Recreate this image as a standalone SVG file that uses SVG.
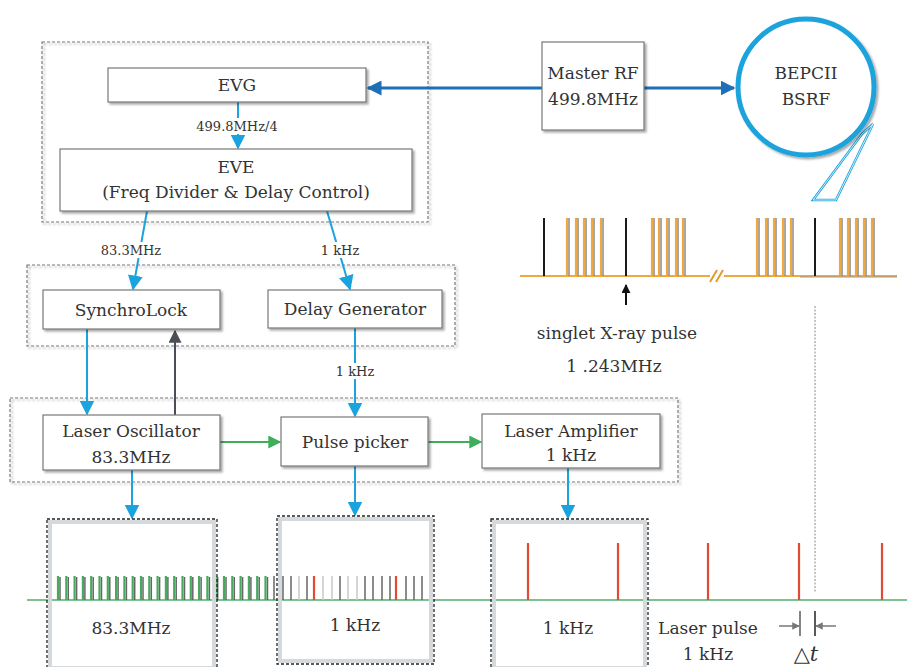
<svg xmlns="http://www.w3.org/2000/svg" width="907" height="667" viewBox="0 0 907 667">
  <defs>
    <filter id="shadow" x="-10%" y="-10%" width="130%" height="130%">
      <feDropShadow dx="2" dy="2" stdDeviation="1.2" flood-color="#000" flood-opacity="0.35"/>
    </filter>
    <marker id="ah-blue" viewBox="0 0 10 10" refX="9" refY="5" markerWidth="7.5" markerHeight="7.5" orient="auto">
      <path d="M0,0 L10,5 L0,10 z" fill="#1aa3dc"/>
    </marker>
    <marker id="ah-dblue" viewBox="0 0 10 10" refX="9" refY="5" markerWidth="5" markerHeight="5" orient="auto">
      <path d="M0,0 L10,5 L0,10 z" fill="#1f6fb5"/>
    </marker>
    <marker id="ah-gray" viewBox="0 0 10 10" refX="9" refY="5" markerWidth="7" markerHeight="6.5" orient="auto">
      <path d="M0,0 L10,5 L0,10 z" fill="#4a4f55"/>
    </marker>
    <marker id="ah-green" viewBox="0 0 10 10" refX="9" refY="5" markerWidth="8" markerHeight="6.5" orient="auto">
      <path d="M0,0 L10,5 L0,10 z" fill="#3fae5a"/>
    </marker>
    <marker id="ah-black" viewBox="0 0 10 10" refX="9" refY="5" markerWidth="4.5" markerHeight="4.5" orient="auto">
      <path d="M0,0 L10,5 L0,10 z" fill="#111"/>
    </marker>
    <marker id="ah-dim" viewBox="0 0 10 10" refX="9" refY="5" markerWidth="5" markerHeight="5" orient="auto">
      <path d="M0,0 L10,5 L0,10 z" fill="#777"/>
    </marker>
  </defs>
  <style>
    text { font-family: "DejaVu Serif", "Liberation Serif", serif; fill: #333; text-anchor: middle; }
    .t { font-size: 17px; }
    .s { font-size: 13px; }
    .box { fill: #fff; stroke: #777; stroke-width: 1.2; filter: url(#shadow); }
    .group { fill: none; stroke: #777; stroke-width: 1.2; stroke-dasharray: 3 2; filter: url(#shadow); }
    .win-in { fill: none; stroke: #d6d9db; stroke-width: 4; }
    .win { fill: none; stroke: #222; stroke-width: 1.3; stroke-dasharray: 3 2; }
    .blue { stroke: #1aa3dc; stroke-width: 2; fill: none; marker-end: url(#ah-blue); }
    .dblue { stroke: #1f6fb5; stroke-width: 3; fill: none; marker-end: url(#ah-dblue); }
    .green { stroke: #3fae5a; stroke-width: 2; fill: none; marker-end: url(#ah-green); }
    .gp { stroke: #49a95f; stroke-width: 2.2; }
    .gs { stroke: #666; stroke-width: 1.5; }
    .lg { stroke: #c8c8c8; stroke-width: 1.5; }
    .rp { stroke: #e14a36; stroke-width: 2.2; }
    .op { stroke: #f0a940; stroke-width: 2.2; }
    .osh { stroke: #8a8a8a; stroke-width: 1.5; }
    .bp { stroke: #1a1a1a; stroke-width: 2; }
    .lab { fill: #fff; }
  </style>

  <!-- group outlines -->
  <rect class="group" x="42" y="42" width="386" height="180"/>
  <rect class="group" x="27" y="265" width="428" height="81"/>
  <rect class="group" x="10" y="398" width="668" height="84"/>

  <!-- connectors -->
  <g id="connectors">
    <line class="dblue" x1="542" y1="88" x2="368" y2="88"/>
    <line class="dblue" x1="644" y1="88" x2="734" y2="88"/>
    <line class="blue" x1="238" y1="102" x2="238" y2="148"/>
    <line class="blue" x1="147" y1="211" x2="133" y2="289"/>
    <line class="blue" x1="327" y1="211" x2="350" y2="289"/>
    <line class="blue" x1="87" y1="329" x2="87" y2="414"/>
    <line x1="175" y1="415" x2="175" y2="331" stroke="#4a4f55" stroke-width="2" marker-end="url(#ah-gray)"/>
    <line class="blue" x1="355" y1="328" x2="355" y2="416"/>
    <line class="green" x1="220" y1="442" x2="280" y2="442"/>
    <line class="green" x1="428" y1="442" x2="481" y2="442"/>
    <line class="blue" x1="132" y1="470" x2="132" y2="518"/>
    <line class="blue" x1="355" y1="466" x2="355" y2="515"/>
    <line class="blue" x1="568" y1="468" x2="568" y2="518"/>
    <!-- link labels on white backing -->
    <rect class="lab" x="193" y="118" width="90" height="16"/>
    <text class="s" x="237" y="131">499.8MHz/4</text>
    <rect class="lab" x="100" y="242" width="62" height="16"/>
    <text class="s" x="131" y="255">83.3MHz</text>
    <rect class="lab" x="319" y="242" width="42" height="16"/>
    <text class="s" x="340" y="255">1 kHz</text>
    <rect class="lab" x="334" y="363" width="42" height="16"/>
    <text class="s" x="355" y="376">1 kHz</text>
  </g>

  <!-- nodes -->
  <g id="evg">
    <rect class="box" x="108" y="68" width="258" height="34"/>
    <text class="t" x="237" y="91">EVG</text>
  </g>
  <g id="eve">
    <rect class="box" x="60" y="149" width="352" height="62"/>
    <text class="t" x="236" y="173">EVE</text>
    <text class="t" x="236" y="198">(Freq Divider &amp; Delay Control)</text>
  </g>
  <g id="master-rf">
    <rect class="box" x="542" y="42" width="102" height="88"/>
    <text class="t" x="593" y="79">Master RF</text>
    <text class="t" x="593" y="105">499.8MHz</text>
  </g>
  <g id="bepcii">
    <polygon points="862,134 813,200 836,200 873,124" fill="#fff" stroke="#1aa3dc" stroke-width="2.5"/>
    <polygon points="862,134 813,200 836,200 873,124" fill="none" stroke="#fff" stroke-width="0.8"/>
    <circle cx="806" cy="87" r="68" fill="#fff" stroke="#1aa3dc" stroke-width="5" filter="url(#shadow)"/>
    <text class="t" x="806" y="79">BEPCII</text>
    <text class="t" x="806" y="105">BSRF</text>
  </g>
  <g id="synchrolock">
    <rect class="box" x="43" y="290" width="177" height="39"/>
    <text class="t" x="131" y="316">SynchroLock</text>
  </g>
  <g id="delay-generator">
    <rect class="box" x="268" y="290" width="174" height="38"/>
    <text class="t" x="355" y="315">Delay Generator</text>
  </g>
  <g id="laser-oscillator">
    <rect class="box" x="43" y="415" width="177" height="55"/>
    <text class="t" x="131" y="437">Laser  Oscillator</text>
    <text class="t" x="131" y="463">83.3MHz</text>
  </g>
  <g id="pulse-picker">
    <rect class="box" x="281" y="417" width="147" height="49"/>
    <text class="t" x="355" y="448">Pulse picker</text>
  </g>
  <g id="laser-amplifier">
    <rect class="box" x="482" y="414" width="178" height="54"/>
    <text class="t" x="571" y="437">Laser  Amplifier</text>
    <text class="t" x="571" y="461">1 kHz</text>
  </g>

  <!-- X-ray bunch train -->
  <g id="xray-train">
    <line x1="520" y1="276" x2="710" y2="276" stroke="#f0a940" stroke-width="2"/>
    <line x1="724" y1="276" x2="897" y2="276" stroke="#f0a940" stroke-width="2"/>
    <line x1="800" y1="277" x2="897" y2="277" stroke="#999" stroke-width="1"/>
    <line x1="710" y1="282" x2="717" y2="270" stroke="#e39a2e" stroke-width="2"/>
    <line x1="716" y1="282" x2="723" y2="270" stroke="#e39a2e" stroke-width="2"/>
    <g class="osh">
      <line x1="569" y1="218" x2="569" y2="276"/><line x1="578" y1="218" x2="578" y2="276"/><line x1="586" y1="218" x2="586" y2="276"/><line x1="594" y1="218" x2="594" y2="276"/><line x1="603" y1="218" x2="603" y2="276"/>
      <line x1="654" y1="218" x2="654" y2="276"/><line x1="661" y1="218" x2="661" y2="276"/><line x1="669" y1="218" x2="669" y2="276"/><line x1="678" y1="218" x2="678" y2="276"/><line x1="685" y1="218" x2="685" y2="276"/>
      <line x1="759" y1="218" x2="759" y2="276"/><line x1="768" y1="218" x2="768" y2="276"/><line x1="776" y1="218" x2="776" y2="276"/><line x1="785" y1="218" x2="785" y2="276"/><line x1="793" y1="218" x2="793" y2="276"/>
      <line x1="842" y1="218" x2="842" y2="276"/><line x1="850" y1="218" x2="850" y2="276"/><line x1="858" y1="218" x2="858" y2="276"/><line x1="866" y1="218" x2="866" y2="276"/><line x1="874" y1="218" x2="874" y2="276"/>
    </g>
    <g class="op">
      <line x1="567" y1="218" x2="567" y2="276"/><line x1="576" y1="218" x2="576" y2="276"/><line x1="584" y1="218" x2="584" y2="276"/><line x1="592" y1="218" x2="592" y2="276"/><line x1="601" y1="218" x2="601" y2="276"/>
      <line x1="652" y1="218" x2="652" y2="276"/><line x1="659" y1="218" x2="659" y2="276"/><line x1="667" y1="218" x2="667" y2="276"/><line x1="676" y1="218" x2="676" y2="276"/><line x1="683" y1="218" x2="683" y2="276"/>
      <line x1="757" y1="218" x2="757" y2="276"/><line x1="766" y1="218" x2="766" y2="276"/><line x1="774" y1="218" x2="774" y2="276"/><line x1="783" y1="218" x2="783" y2="276"/><line x1="791" y1="218" x2="791" y2="276"/>
      <line x1="840" y1="218" x2="840" y2="276"/><line x1="848" y1="218" x2="848" y2="276"/><line x1="856" y1="218" x2="856" y2="276"/><line x1="864" y1="218" x2="864" y2="276"/><line x1="872" y1="218" x2="872" y2="276"/>
    </g>
    <g class="bp">
      <line x1="544" y1="218" x2="544" y2="276"/>
      <line x1="626" y1="218" x2="626" y2="276"/>
      <line x1="815" y1="218" x2="815" y2="276"/>
    </g>
    <line x1="626" y1="305" x2="626" y2="285" stroke="#111" stroke-width="2" marker-end="url(#ah-black)"/>
    <text class="t" x="617" y="339">singlet X-ray pulse</text>
    <text class="t" x="614" y="372">1 .243MHz</text>
    <line x1="815" y1="306" x2="815" y2="592" stroke="#888" stroke-width="1" stroke-dasharray="2 1.5"/>
  </g>

  <!-- laser pulse train -->
  <g id="laser-train">
    <line x1="27" y1="600" x2="907" y2="600" stroke="#4caf68" stroke-width="1.5"/>
    <g class="gs">
      <line x1="60" y1="577" x2="60" y2="600"/><line x1="68.3" y1="577" x2="68.3" y2="600"/><line x1="76.6" y1="577" x2="76.6" y2="600"/><line x1="84.9" y1="577" x2="84.9" y2="600"/><line x1="93.2" y1="577" x2="93.2" y2="600"/><line x1="101.5" y1="577" x2="101.5" y2="600"/><line x1="109.8" y1="577" x2="109.8" y2="600"/><line x1="118.1" y1="577" x2="118.1" y2="600"/><line x1="126.4" y1="577" x2="126.4" y2="600"/><line x1="134.7" y1="577" x2="134.7" y2="600"/><line x1="143" y1="577" x2="143" y2="600"/><line x1="151.3" y1="577" x2="151.3" y2="600"/><line x1="159.6" y1="577" x2="159.6" y2="600"/><line x1="167.9" y1="577" x2="167.9" y2="600"/><line x1="176.2" y1="577" x2="176.2" y2="600"/><line x1="184.5" y1="577" x2="184.5" y2="600"/><line x1="192.8" y1="577" x2="192.8" y2="600"/><line x1="201.1" y1="577" x2="201.1" y2="600"/><line x1="209.4" y1="577" x2="209.4" y2="600"/><line x1="217.7" y1="577" x2="217.7" y2="600"/><line x1="226" y1="577" x2="226" y2="600"/><line x1="234.3" y1="577" x2="234.3" y2="600"/><line x1="242.6" y1="577" x2="242.6" y2="600"/><line x1="250.9" y1="577" x2="250.9" y2="600"/><line x1="259.2" y1="577" x2="259.2" y2="600"/><line x1="267.5" y1="577" x2="267.5" y2="600"/>
    </g>
    <g class="gp">
      <line x1="58" y1="576" x2="58" y2="600"/><line x1="66.3" y1="576" x2="66.3" y2="600"/><line x1="74.6" y1="576" x2="74.6" y2="600"/><line x1="82.9" y1="576" x2="82.9" y2="600"/><line x1="91.2" y1="576" x2="91.2" y2="600"/><line x1="99.5" y1="576" x2="99.5" y2="600"/><line x1="107.8" y1="576" x2="107.8" y2="600"/><line x1="116.1" y1="576" x2="116.1" y2="600"/><line x1="124.4" y1="576" x2="124.4" y2="600"/><line x1="132.7" y1="576" x2="132.7" y2="600"/><line x1="141" y1="576" x2="141" y2="600"/><line x1="149.3" y1="576" x2="149.3" y2="600"/><line x1="157.6" y1="576" x2="157.6" y2="600"/><line x1="165.9" y1="576" x2="165.9" y2="600"/><line x1="174.2" y1="576" x2="174.2" y2="600"/><line x1="182.5" y1="576" x2="182.5" y2="600"/><line x1="190.8" y1="576" x2="190.8" y2="600"/><line x1="199.1" y1="576" x2="199.1" y2="600"/><line x1="207.4" y1="576" x2="207.4" y2="600"/><line x1="215.7" y1="576" x2="215.7" y2="600"/><line x1="224" y1="576" x2="224" y2="600"/><line x1="232.3" y1="576" x2="232.3" y2="600"/><line x1="240.6" y1="576" x2="240.6" y2="600"/><line x1="248.9" y1="576" x2="248.9" y2="600"/><line x1="257.2" y1="576" x2="257.2" y2="600"/><line x1="265.5" y1="576" x2="265.5" y2="600"/>
    </g>
    <g class="gs">
      <line x1="274" y1="576" x2="274" y2="600"/><line x1="283" y1="576" x2="283" y2="600"/><line x1="291" y1="576" x2="291" y2="600"/><line x1="307" y1="576" x2="307" y2="600"/><line x1="340" y1="576" x2="340" y2="600"/><line x1="365" y1="576" x2="365" y2="600"/><line x1="373" y1="576" x2="373" y2="600"/><line x1="382" y1="576" x2="382" y2="600"/><line x1="390" y1="576" x2="390" y2="600"/><line x1="406" y1="576" x2="406" y2="600"/><line x1="414" y1="576" x2="414" y2="600"/><line x1="422" y1="576" x2="422" y2="600"/><line x1="431" y1="576" x2="431" y2="600"/>
    </g>
    <g class="lg">
      <line x1="299" y1="576" x2="299" y2="600"/><line x1="323" y1="576" x2="323" y2="600"/><line x1="332" y1="576" x2="332" y2="600"/><line x1="348" y1="576" x2="348" y2="600"/><line x1="357" y1="576" x2="357" y2="600"/>
    </g>
    <g class="rp">
      <line x1="314" y1="576" x2="314" y2="600"/><line x1="396" y1="576" x2="396" y2="600"/>
      <line x1="528" y1="543" x2="528" y2="600"/><line x1="618" y1="543" x2="618" y2="600"/><line x1="708" y1="543" x2="708" y2="600"/><line x1="799" y1="543" x2="799" y2="600"/><line x1="882" y1="543" x2="882" y2="600"/>
    </g>
  </g>

  <!-- observation windows -->
  <g id="window-oscillator">
    <rect class="win-in" x="50" y="522" width="164" height="146"/>
    <rect class="win" x="47" y="519" width="170" height="152"/>
    <text class="t" x="131" y="634">83.3MHz</text>
  </g>
  <g id="window-picker">
    <rect class="win-in" x="280" y="519" width="151" height="142"/>
    <rect class="win" x="277" y="516" width="157" height="148"/>
    <text class="t" x="355" y="631">1 kHz</text>
  </g>
  <g id="window-amplifier">
    <rect class="win-in" x="494" y="522" width="151" height="146"/>
    <rect class="win" x="491" y="519" width="157" height="152"/>
    <text class="t" x="568" y="634">1 kHz</text>
  </g>

  <!-- delay between laser and X-ray -->
  <g id="delay">
    <text class="t" x="708" y="634">Laser  pulse</text>
    <text class="t" x="708" y="660">1 kHz</text>
    <line x1="800" y1="611" x2="800" y2="636" stroke="#333" stroke-width="1.2"/>
    <line x1="815" y1="611" x2="815" y2="636" stroke="#222" stroke-width="1.5"/>
    <line x1="779" y1="626" x2="799" y2="626" stroke="#777" stroke-width="1.5" marker-end="url(#ah-dim)"/>
    <line x1="836" y1="626" x2="816" y2="626" stroke="#777" stroke-width="1.5" marker-end="url(#ah-dim)"/>
    <text x="806" y="661" style="font-size:21px">△<tspan font-style="italic">t</tspan></text>
  </g>
</svg>
